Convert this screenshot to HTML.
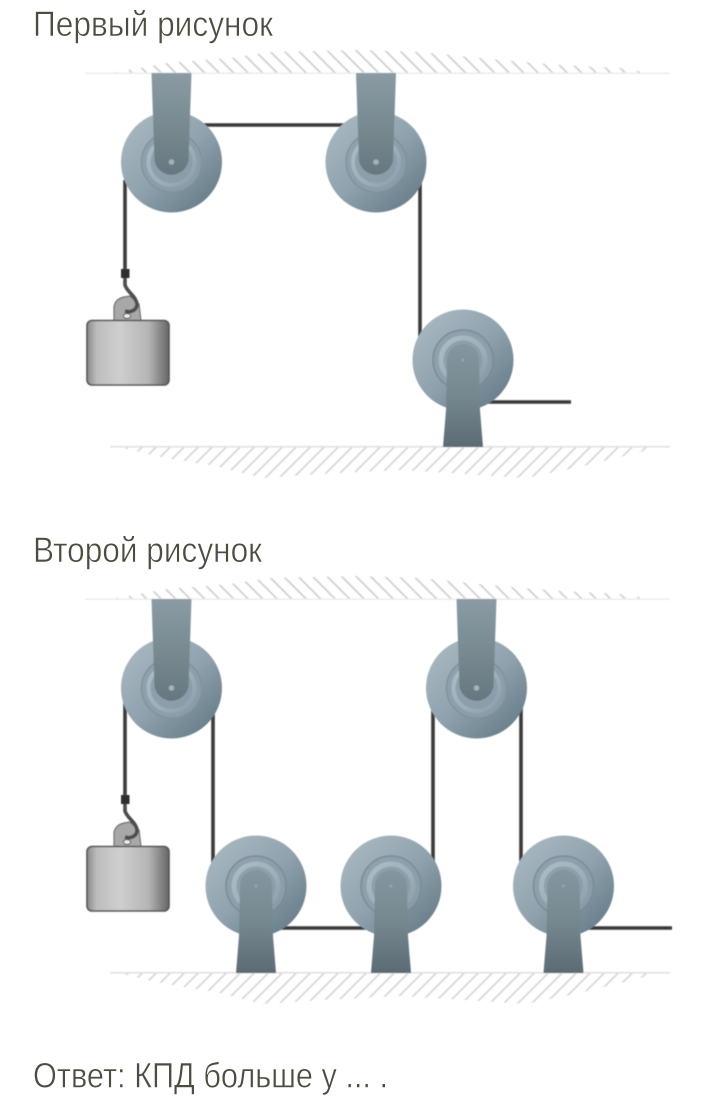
<!DOCTYPE html>
<html lang="ru">
<head>
<meta charset="utf-8">
<title>Блоки</title>
<style>
html,body{margin:0;padding:0;background:#fff}
svg{display:block}
text{font-family:"Liberation Sans Narrow","Liberation Sans",sans-serif;font-size:35px;fill:#4c4c40;stroke:#fff;stroke-width:0.55;paint-order:fill stroke}
</style>
</head>
<body>
<svg xmlns="http://www.w3.org/2000/svg" width="720" height="1112" viewBox="0 0 720 1112">
<defs>
  <linearGradient id="disc" x1="0.12" y1="0.12" x2="0.85" y2="0.92">
    <stop offset="0" stop-color="#a6b6bf"/><stop offset="0.5" stop-color="#8fa2ad"/><stop offset="1" stop-color="#697e8b"/>
  </linearGradient>
  <linearGradient id="inner" x1="0.1" y1="0.1" x2="0.9" y2="0.9">
    <stop offset="0" stop-color="#8fa2ad"/><stop offset="1" stop-color="#8a9ca7"/>
  </linearGradient>
  <linearGradient id="ringOuter" x1="0.1" y1="0.1" x2="0.9" y2="0.9">
    <stop offset="0" stop-color="#7e929d"/><stop offset="0.7" stop-color="#7e929d"/><stop offset="1" stop-color="#7e929d" stop-opacity="0.5"/>
  </linearGradient>
  <linearGradient id="ringLight" x1="0.1" y1="0.1" x2="0.9" y2="0.9">
    <stop offset="0" stop-color="#a9bbc4"/><stop offset="0.6" stop-color="#9db0ba"/><stop offset="1" stop-color="#8fa2ad"/>
  </linearGradient>
  <linearGradient id="brTop" x1="0" y1="0" x2="0" y2="1">
    <stop offset="0" stop-color="#8a9ba5"/><stop offset="0.55" stop-color="#77898f"/><stop offset="1" stop-color="#667780"/>
  </linearGradient>
  <linearGradient id="brBot" x1="0" y1="0" x2="0" y2="1">
    <stop offset="0" stop-color="#8496a0"/><stop offset="0.5" stop-color="#76888f"/><stop offset="1" stop-color="#5b6b74"/>
  </linearGradient>
  <linearGradient id="wt" x1="0" y1="0" x2="1" y2="0">
    <stop offset="0" stop-color="#8a8a8a"/><stop offset="0.12" stop-color="#bdbdbd"/><stop offset="0.4" stop-color="#cfcfcf"/><stop offset="0.75" stop-color="#b5b5b5"/><stop offset="1" stop-color="#666"/>
  </linearGradient>
  <pattern id="hTop" width="14.5" height="40" patternUnits="userSpaceOnUse" patternTransform="skewX(45)">
    <rect x="0" y="0" width="2.4" height="40" fill="#cfcfcf"/>
  </pattern>
  <pattern id="hBot" width="14" height="40" patternUnits="userSpaceOnUse" patternTransform="skewX(-45)">
    <rect x="0" y="0" width="2.4" height="40" fill="#d6d6d6"/>
  </pattern>
  <filter id="soft" x="-5%" y="-5%" width="110%" height="110%"><feGaussianBlur stdDeviation="0.5"/></filter>

  <g id="ceil">
    <path d="M112 73L167 63L230 58L270 52L360 50L420 52L500 60L560 65L620 68L650 73Z" fill="url(#hTop)"/>
    <rect x="85" y="72.5" width="585" height="1.5" fill="#ececec"/>
  </g>
  <g id="floor">
    <path d="M118 447L660 447L620 457L575 468L525 478L465 474L400 470L320 474L262 478L215 466L165 458Z" fill="url(#hBot)"/>
    <rect x="110" y="446" width="560" height="1.5" fill="#e0e0e0"/>
  </g>

  <g id="pTop">
    <circle r="50.5" fill="url(#disc)"/>
    <circle r="30" fill="url(#inner)" stroke="url(#ringOuter)" stroke-width="1.4"/>
    <circle r="23" fill="none" stroke="url(#ringLight)" stroke-width="4"/>
    <path d="M-20 -89L20 -89L17 -1A17.5 18 0 0 1 -17 -1Z" fill="url(#brTop)"/>
    <circle r="2.8" fill="#a3b2ba"/>
  </g>
  <g id="pBot">
    <circle r="50.5" fill="url(#disc)"/>
    <circle r="30" fill="url(#inner)" stroke="#788c97" stroke-width="1.5"/>
    <circle r="22" fill="none" stroke="url(#ringLight)" stroke-width="5"/>
    <path d="M-16 87L20 87L17 50L16 0A16 16 0 0 0 -16 0L-17 50L-20 87Z" fill="url(#brBot)"/>
    <circle r="1.3" fill="#9aabb4"/>
  </g>
  <g id="weight">
    <path d="M114 321V307Q115 299 124 297L130 296L139 304L141 321Z" fill="#a8a8a8" stroke="#707070" stroke-width="1.2"/>
    <path d="M125 268V285C127 292 136 296 137 304C137 310 131 313 125 311" fill="none" stroke="#4d4d4d" stroke-width="3.6"/>
    <rect x="121" y="269" width="8.5" height="9" fill="#2e2e2e"/>
    <ellipse cx="127" cy="316" rx="3.6" ry="2.4" fill="#eee" stroke="#555" stroke-width="1"/>
    <rect x="87" y="320.5" width="82" height="64.5" rx="5" fill="url(#wt)" stroke="#555" stroke-width="1.6"/>
  </g>
</defs>

<text x="33" y="36" textLength="240" lengthAdjust="spacingAndGlyphs">Первый рисунок</text>
<text x="33" y="562" textLength="229" lengthAdjust="spacingAndGlyphs">Второй рисунок</text>
<text x="33" y="1087.5" textLength="355" lengthAdjust="spacingAndGlyphs">Ответ: КПД больше у ... .</text>

<g filter="url(#soft)">
  <!-- first figure -->
  <use href="#ceil"/>
  <use href="#floor"/>
  <g fill="none" stroke="#3a3a3a" stroke-width="3.6">
    <path d="M125 180V272"/>
    <path d="M200 125H350"/>
    <path d="M420 180V340"/>
    <path d="M480 402H571"/>
  </g>
  <use href="#weight"/>
  <use href="#pTop" x="171.5" y="162"/>
  <use href="#pTop" x="376" y="162"/>
  <use href="#pBot" x="463" y="360"/>

  <!-- second figure -->
  <use href="#ceil" y="526"/>
  <use href="#floor" y="526"/>
  <g fill="none" stroke="#3a3a3a" stroke-width="3.6">
    <path d="M125 700V798"/>
    <path d="M213 700V865"/>
    <path d="M433 700V865"/>
    <path d="M521 700V865"/>
    <path d="M270 928H380"/>
    <path d="M580 928H672"/>
  </g>
  <use href="#weight" y="526"/>
  <use href="#pTop" x="171.5" y="688"/>
  <use href="#pTop" x="476.5" y="688"/>
  <use href="#pBot" x="256" y="886"/>
  <use href="#pBot" x="391" y="886"/>
  <use href="#pBot" x="563.5" y="886"/>
</g>
</svg>
</body>
</html>
